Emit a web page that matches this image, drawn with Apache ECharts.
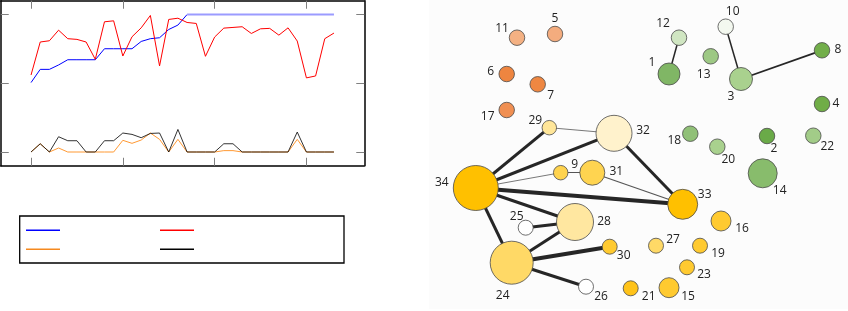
<!DOCTYPE html>
<html>
<head>
<meta charset="utf-8">
<script src="https://cdn.jsdelivr.net/npm/echarts@6/dist/echarts.min.js"></script>
<style>
html,body{margin:0;padding:0;background:#fff;}
#c{width:848px;height:311px;}
</style>
</head>
<body>
<div id="c"></div>
<script>
// ---------- Line chart data ----------
var xTicks = [0, 10, 20, 30];
var yTicks = [0, 0.5, 1];
var blueVals = [0.505,0.601,0.601,0.633,0.671,0.671,0.671,0.671,0.751,0.751,0.751,0.751,0.804,0.824,0.831,0.891,0.923,1,1,1,1,1,1,1,1,1,1,1,1,1,1,1,1,1];
var redVals = [0.560,0.800,0.809,0.886,0.824,0.819,0.800,0.674,0.947,0.954,0.698,0.838,0.903,0.993,0.626,0.964,0.973,0.942,0.935,0.696,0.836,0.901,0.906,0.911,0.862,0.896,0.899,0.850,0.903,0.807,0.539,0.553,0.824,0.865];
var orangeVals = [0,0.060,0,0.029,0,0,0,0,0,0,0.085,0.063,0.087,0.138,0.092,0,0.092,0,0,0,0,0.01,0.01,0,0,0,0,0,0,0.092,0,0,0,0];
var blackVals = [0,0.060,0,0.111,0.082,0.082,0,0,0.082,0.082,0.138,0.128,0.104,0.135,0.138,0,0.164,0,0,0,0,0.060,0.060,0,0,0,0,0,0,0.145,0,0,0,0];
var blueSplit = 17;

// ---------- Network data ----------
var nodeNames = ['11','5','6','7','17','29','32','12','1','13','10','3','8','4','18','20','2','22','34','9','31','33','14','28','25','16','27','19','30','24','23','26','21','15'];
var nodeX = [517,555,506.7,537.7,506.7,549.3,614,679,669,710.7,725.7,741,822,822,690.3,717.3,767,813.3,475.8,560.7,592.3,682.7,762.7,575,525.7,721,656,700,609.7,511.7,687,586,630.7,669];
var nodeY = [37.7,34,74,84.3,110,127.7,133.3,37.7,74,56.3,26.7,79,50.3,104,133.7,146.7,136,135.7,188,172.7,172.7,204.3,173.3,222,227.7,221,245.7,245.7,246.7,262.7,267.3,286.7,288.3,287.7];
var nodeSize = [15.5,15.5,15.5,15.5,15.5,14.5,36,15.5,22,15.5,15.5,23,15.5,15.5,15.5,15.5,15.5,15.5,45,14.5,25,30,29,37,15,20,15,15,15,43,15,15,15,20];
var links = [
  ['12','1',1.5],['10','3',1.5],['3','8',1.8],['29','32',0.8],['34','29',3],['34','32',3],['32','33',3],
  ['34','9',0.8],['9','31',1],['31','33',1.2],['34','33',4],['34','28',3],['34','24',3],['25','28',3],
  ['24','28',3],['24','30',4],['24','26',3]
];

// ---------- styles ----------
var nodeColor = {
  '11':'#f4b183','5':'#f4ac7e','6':'#ee8540','7':'#ee8742','17':'#f08f52',
  '12':'#d0e6c2','10':'#f3f8ef','1':'#80b665','13':'#9dc884','3':'#a9d18e','8':'#72ae4a','4':'#70ad47',
  '18':'#90c077','20':'#a9d18e','2':'#6aaa48','22':'#a2cc88','14':'#88bc6c',
  '34':'#ffc000','33':'#ffc000','32':'#fff2cc','29':'#ffe699','9':'#ffd34e','31':'#ffd450','28':'#ffe7a0',
  '25':'#ffffff','24':'#ffd966','26':'#ffffff','30':'#ffca30','16':'#ffca30','27':'#ffd966','19':'#ffca30',
  '23':'#ffca30','21':'#ffc31a','15':'#ffca30'
};
var labelOffset = {
  '11':[-15,-9],'5':[0,-15],'6':[-16,-2],'7':[13,11],'17':[-19,7],'29':[-14,-7],'32':[29,-3],
  '12':[-16,-14],'1':[-17,-11],'13':[-7,18],'10':[7,-15],'3':[-10,18],'8':[16,-1],'4':[14,0],
  '18':[-16,7],'20':[11,13],'2':[7,13],'22':[14,11],'34':[-34,-5],'9':[14,-8],'31':[24,-1],
  '33':[22,-10],'14':[17,17],'28':[29,0],'25':[-9,-11],'16':[21,8],'27':[17,-6],'19':[18,8],
  '30':[14,9],'24':[-9,33],'23':[17,7],'26':[15,10],'21':[18,8],'15':[19,9]
};

function pairs(vals, from, to) {
  var out = [];
  for (var i = 0; i < vals.length; i++) {
    if (i >= from && i <= to) out.push([i, vals[i]]);
  }
  return out;
}

var graphData = nodeNames.map(function (n, i) {
  return {
    name: n,
    value: [nodeX[i], nodeY[i]],
    symbolSize: nodeSize[i],
    itemStyle: { color: nodeColor[n], borderColor: '#4a4a4a', borderWidth: 0.8 },
    label: { show: true, position: 'inside', offset: labelOffset[n], formatter: n,
             color: '#222', fontSize: 12, fontFamily: 'Open Sans' }
  };
});
var graphLinks = links.map(function (l) {
  var w = l[2];
  return { source: l[0], target: l[1],
           lineStyle: { width: w, color: w < 1.3 ? '#555' : '#262626', opacity: 1, curveness: 0 } };
});

var axLine = { show: true, onZero: false, lineStyle: { color: '#000', width: 1.5 } };
function tick(vals) {
  return { show: true, inside: true, length: 8, customValues: vals, lineStyle: { color: '#808080', width: 1 } };
}
var xBase = { type: 'value', gridIndex: 0, min: -3.3, max: 36.3, axisLine: axLine,
  axisLabel: { show: false }, splitLine: { show: false } };
var yBase = { type: 'value', gridIndex: 0, min: -0.1, max: 1.1, axisLine: axLine,
  axisLabel: { show: false }, splitLine: { show: false } };

var chart = echarts.init(document.getElementById('c'), null, { renderer: 'canvas' });
chart.setOption({
  animation: false,
  backgroundColor: '#ffffff',
  grid: [
    { left: 0.75, top: 0.75, width: 363.5, height: 165 },
    { left: 429, top: 0, width: 419, height: 311 }
  ],
  xAxis: [
    Object.assign({}, xBase, { position: 'bottom', axisTick: tick(xTicks) }),
    Object.assign({}, xBase, { position: 'top', axisTick: tick(xTicks) }),
    { type: 'value', gridIndex: 1, min: 429, max: 848, show: false }
  ],
  yAxis: [
    Object.assign({}, yBase, { position: 'left', axisTick: tick(yTicks) }),
    Object.assign({}, yBase, { position: 'right', axisTick: tick(yTicks) }),
    { type: 'value', gridIndex: 1, min: 0, max: 311, inverse: true, show: false }
  ],
  legend: [
    { left: 26, top: 229.5, orient: 'horizontal', data: ['blue', 'red'], itemWidth: 34, itemHeight: 1.5,
      itemGap: 100, icon: 'rect', formatter: function () { return ''; }, selectedMode: false, padding: 0 },
    { left: 26, top: 248.5, orient: 'horizontal', data: ['orange', 'black'], itemWidth: 34, itemHeight: 1.5,
      itemGap: 100, icon: 'rect', formatter: function () { return ''; }, selectedMode: false, padding: 0 }
  ],
  graphic: [
    { type: 'rect', z: -10, shape: { x: 429, y: 0, width: 419, height: 309 }, style: { fill: '#fcfcfc' } },
    { type: 'rect', z: 0, shape: { x: 19.7, y: 216, width: 324.3, height: 47 },
      style: { fill: 'none', stroke: '#000', lineWidth: 1.3 } }
  ],
  series: [
    { name: 'blue', type: 'line', xAxisIndex: 0, yAxisIndex: 0, data: pairs(blueVals, 0, blueSplit),
      showSymbol: false, color: '#0000ff', lineStyle: { width: 1, color: '#0000ff' } },
    { name: 'blue-flat', type: 'line', xAxisIndex: 0, yAxisIndex: 0, data: pairs(blueVals, blueSplit, blueVals.length - 1),
      showSymbol: false, color: '#9999ff', lineStyle: { width: 2, color: '#9b9bff' } },
    { name: 'red', type: 'line', xAxisIndex: 0, yAxisIndex: 0, data: pairs(redVals, 0, redVals.length - 1),
      showSymbol: false, color: '#ff0000', lineStyle: { width: 1, color: '#ff0000' } },
    { name: 'orange', type: 'line', xAxisIndex: 0, yAxisIndex: 0, data: pairs(orangeVals, 0, orangeVals.length - 1),
      showSymbol: false, color: '#f5891f', lineStyle: { width: 1, color: '#ff9933' } },
    { name: 'black', type: 'line', xAxisIndex: 0, yAxisIndex: 0, data: pairs(blackVals, 0, blackVals.length - 1),
      showSymbol: false, color: '#000000', lineStyle: { width: 1, color: '#000000', opacity: 0.8 } },
    { name: 'network', type: 'graph', coordinateSystem: 'cartesian2d', xAxisIndex: 2, yAxisIndex: 2,
      data: graphData, links: graphLinks, roam: false, symbol: 'circle',
      emphasis: { disabled: true } }
  ]
});
</script>
</body>
</html>
